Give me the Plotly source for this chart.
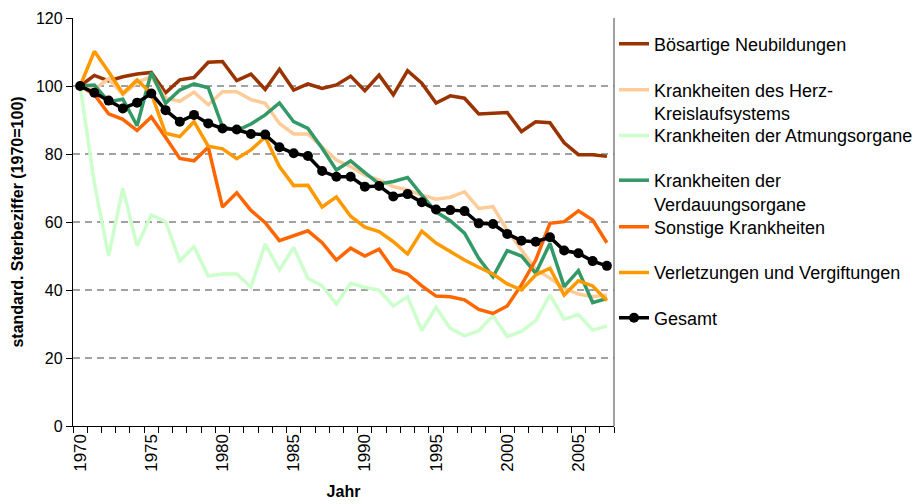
import plotly.graph_objects as go

years = list(range(1970, 2008))

boesartige = [100, 103.1, 101.5, 102.7, 103.5, 104.0, 98.0, 101.8, 102.5, 107.0, 107.2, 101.6, 103.5, 99.0, 104.9,
              98.8, 100.6, 99.3, 100.3, 102.9, 98.6, 103.2, 97.4, 104.5, 100.8, 95.0, 97.1, 96.4, 91.8, 92.0,
              92.2, 86.6, 89.5, 89.2, 83.3, 79.8, 79.8, 79.3]
herz = [100, 99.0, 102.2, 97.5, 101.0, 102.8, 96.5, 95.5, 98.2, 94.5, 98.3, 98.3, 96.0, 94.9, 89.0,
        85.9, 85.9, 82.2, 78.2, 76.3, 73.8, 72.4, 70.4, 69.4, 67.9, 66.7, 67.3, 68.9, 64.0, 64.5,
        57.6, 51.8, 46.0, 43.5, 40.5, 38.8, 38.0, 38.5]
atmung = [100, 71.4, 50.0, 69.9, 53.0, 62.1, 60.1, 48.6, 52.7, 44.1, 44.7, 44.7, 40.9, 53.5, 45.9,
          52.5, 43.4, 41.2, 35.9, 42.0, 40.8, 40.0, 35.3, 38.0, 28.1, 34.9, 28.7, 26.5, 28.0, 32.4,
          26.3, 27.8, 31.0, 38.5, 31.4, 32.8, 28.2, 29.4]
verdauung = [100, 100.3, 95.4, 96.1, 88.3, 104.0, 94.9, 98.8, 100.6, 99.5, 88.0, 86.9, 88.8, 91.5, 95.0,
             89.5, 87.5, 81.7, 75.3, 78.0, 74.5, 71.2, 71.9, 73.1, 67.9, 63.0, 60.4, 56.7, 49.3, 43.9,
             51.6, 50.0, 44.9, 53.7, 41.0, 45.7, 36.3, 37.5]
sonstige = [100, 97.5, 91.8, 90.2, 86.9, 90.9, 84.9, 78.7, 78.0, 82.0, 64.4, 68.6, 63.4, 59.8, 54.5,
            55.9, 57.4, 53.9, 48.8, 52.3, 50.0, 52.0, 46.1, 44.7, 41.2, 38.2, 38.0, 37.1, 34.3, 33.1,
            35.3, 41.5, 48.8, 59.6, 60.1, 63.3, 60.6, 53.9]
verletzungen = [100, 110.2, 104.2, 97.8, 101.8, 97.8, 86.1, 85.1, 89.5, 82.3, 81.5, 78.6, 81.2, 85.0, 76.3,
                70.7, 70.8, 64.4, 67.4, 61.7, 58.5, 57.2, 54.2, 50.6, 57.3, 53.8, 51.3, 48.8, 46.7, 44.7,
                41.8, 40.0, 44.4, 46.4, 38.5, 42.7, 41.2, 36.9]
gesamt = [100, 98.0, 95.7, 93.4, 95.1, 97.8, 92.9, 89.5, 91.5, 89.0, 87.5, 87.2, 85.9, 85.7, 82.0,
          80.2, 79.4, 75.0, 73.3, 73.3, 70.4, 70.6, 67.5, 68.2, 65.8, 63.7, 63.5, 63.2, 59.6, 59.4,
          56.5, 54.5, 54.2, 55.5, 51.6, 50.8, 48.5, 47.1]

names = ["Bösartige Neubildungen",
         "Krankheiten des Herz-<br>Kreislaufsystems",
         "Krankheiten der Atmungsorgane",
         "Krankheiten der<br>Verdauungsorgane",
         "Sonstige Krankheiten",
         "Verletzungen und Vergiftungen",
         "Gesamt"]
series = [boesartige, herz, atmung, verdauung, sonstige, verletzungen, gesamt]
colors = ["#993300", "#FFCC99", "#CCFFCC", "#339966", "#FF6600", "#FF9900", "#000000"]
legend_y = [0.936, 0.795, 0.7115, 0.5735, 0.4877, 0.3757, 0.2647]
tick_years = [1970, 1975, 1980, 1985, 1990, 1995, 2000, 2005]

fig = go.Figure()
legend_ids = ["legend"] + ["legend%d" % i for i in range(2, 8)]
for i, (nm, vals, col) in enumerate(zip(names, series, colors)):
    is_total = (nm == "Gesamt")
    fig.add_trace(go.Scatter(
        x=years, y=vals, name=nm,
        mode="lines+markers" if is_total else "lines",
        line=dict(color=col, width=3.5),
        marker=dict(size=10, color=col) if is_total else None,
        legend=legend_ids[i],
    ))

layout_legends = {}
for i, lid in enumerate(legend_ids):
    layout_legends[lid] = dict(
        x=1.0, y=legend_y[i], xanchor="left", yanchor="middle",
        font=dict(family="Liberation Sans, Arial", size=18, color="#000"),
        bgcolor="rgba(0,0,0,0)", borderwidth=0,
        valign="top", tracegroupgap=0,
    )

shapes = []
for gv in [20, 40, 60, 80, 100]:
    shapes.append(dict(type="line", xref="paper", yref="y", x0=0, x1=1, y0=gv, y1=gv,
                       line=dict(color="#444444", width=1, dash="7px,5px"), layer="below"))
shapes.append(dict(type="line", xref="paper", yref="paper", x0=1, x1=1, y0=0, y1=1,
                   line=dict(color="#808080", width=1.5)))

fig.update_layout(
    width=921, height=504,
    margin=dict(l=73, r=307, t=18, b=78, autoexpand=False),
    paper_bgcolor="white", plot_bgcolor="white",
    font=dict(family="Liberation Sans, Arial", size=16, color="#000"),
    shapes=shapes,
    showlegend=True,
    **layout_legends,
)
fig.update_xaxes(
    range=[1969.5, 2007.5], tickvals=tick_years, ticktext=[str(t) for t in tick_years],
    tickangle=-90, ticks="", showgrid=False, zeroline=False, automargin=False,
    showline=True, linecolor="#000", linewidth=1.2,
    minor=dict(tick0=1969.5, dtick=1, ticks="outside", ticklen=6, tickcolor="#000", showgrid=False),
    tickfont=dict(size=17),
    title=dict(text="<b>Jahr</b>", font=dict(size=16), standoff=15),
)
fig.update_yaxes(
    range=[0, 120], dtick=20, ticks="outside", ticklen=6, tickcolor="#000",
    showgrid=False, zeroline=False, showline=True, linecolor="#000", linewidth=1.2,
    automargin=False,
    tickfont=dict(size=16),
    title=dict(text="<b>standard. Sterbeziffer (1970=100)</b>", font=dict(size=16), standoff=8),
)

fig.write_html("out.html",
               config={"displayModeBar": False, "staticPlot": True},
               post_script="document.body.style.margin='0';document.body.style.padding='0';")
